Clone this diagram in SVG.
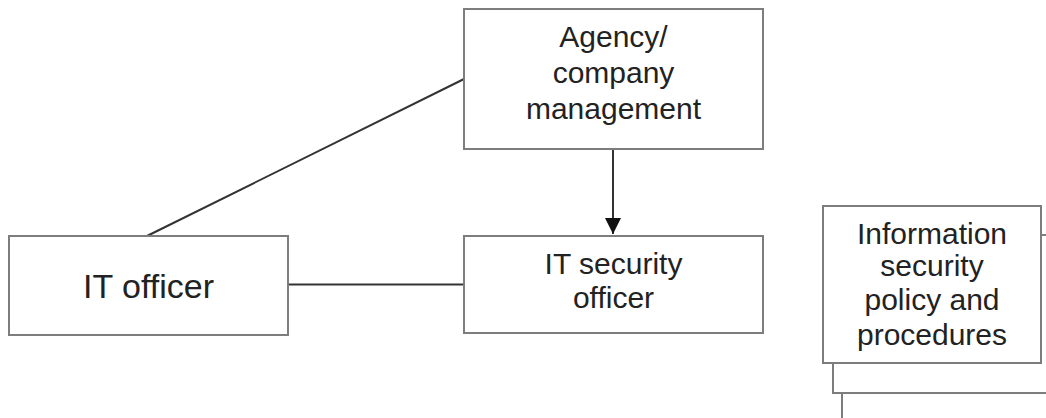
<svg xmlns="http://www.w3.org/2000/svg" width="1046" height="418" viewBox="0 0 1046 418">
<style>
.box{fill:#fff;stroke:#7d7d7d;stroke-width:2}
.edge{fill:none;stroke:#333;stroke-width:2}
.lbl{font-family:"Liberation Sans",Arial,sans-serif;font-size:30px;fill:#222;text-anchor:middle}
.big{font-size:34px}
</style>
<defs>
<marker id="arr" markerWidth="16" markerHeight="16" refX="16" refY="8" orient="auto" markerUnits="userSpaceOnUse">
<path d="M0,0 L16,8 L0,16 Z" fill="#111"/>
</marker>
</defs>
<rect width="1046" height="418" fill="#fff"/>
<g id="connectors">
<line class="edge" x1="147" y1="236" x2="464" y2="79"/>
<line class="edge" x1="288" y1="284.5" x2="464" y2="284.5"/>
<line class="edge" x1="613" y1="149" x2="613" y2="234" marker-end="url(#arr)"/>
</g>
<g id="agency">
<rect class="box" x="464" y="9" width="299" height="140"/>
<text class="lbl" x="613.5" y="47">Agency/</text>
<text class="lbl" x="613.5" y="83">company</text>
<text class="lbl" x="613.5" y="119">management</text>
</g>
<g id="it-officer">
<rect class="box" x="9" y="236" width="279" height="99"/>
<text class="lbl big" x="148.5" y="298">IT officer</text>
</g>
<g id="it-security-officer">
<rect class="box" x="464" y="236" width="299" height="97"/>
<text class="lbl" x="613.5" y="274">IT security</text>
<text class="lbl" x="613.5" y="308">officer</text>
</g>
<g id="info-policy">
<path d="M833,363 V393 H1046" fill="none" stroke="#7d7d7d" stroke-width="2"/>
<path d="M842,393 V418" fill="none" stroke="#7d7d7d" stroke-width="2"/>
<path d="M1041,235 H1046" fill="none" stroke="#7d7d7d" stroke-width="2"/>
<rect class="box" x="823" y="206" width="218" height="157"/>
<text class="lbl" x="932" y="244">Information</text>
<text class="lbl" x="932" y="276">security</text>
<text class="lbl" x="932" y="310">policy and</text>
<text class="lbl" x="932" y="345">procedures</text>
</g>
</svg>
